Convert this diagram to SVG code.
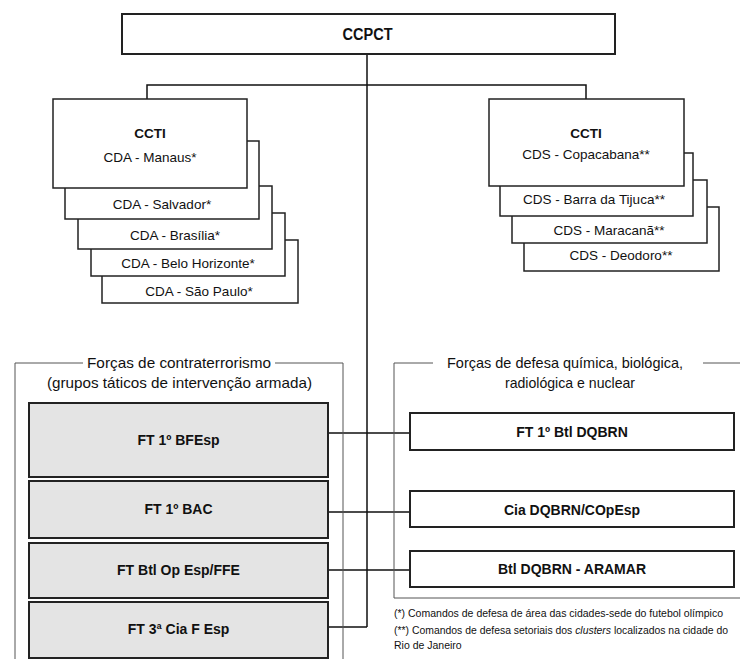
<svg xmlns="http://www.w3.org/2000/svg" width="740" height="659" viewBox="0 0 740 659">
<style>
text{font-family:"Liberation Sans",Arial,sans-serif;fill:#111;text-anchor:middle;dominant-baseline:central}
.b{font-weight:bold}
.n{font-size:13.5px}
.hd{font-size:15px}
.h{font-size:14px}
.fn{font-size:10.5px;text-anchor:start;dominant-baseline:auto}
.box{fill:#fff;stroke:#222;stroke-width:1.5}
.gbox{fill:#e4e4e4;stroke:#222;stroke-width:2}
.rbox{fill:#fff;stroke:#222;stroke-width:2}
.frame{fill:none;stroke:#555;stroke-width:1}
.conn{fill:none;stroke:#111;stroke-width:1.5}
</style>
<rect width="740" height="659" fill="#fff"/>
<g id="connectors">
<path class="conn" d="M367 54V627M147 99V85H586V99"/>
<path class="conn" d="M328 433H410M328 512H410M328 570H410M328 627H367"/>
</g>
<g id="ccpct">
<rect class="box" x="122" y="14" width="493" height="40" style="stroke-width:2"/>
<text class="b" x="367.5" y="34" style="font-size:16px" textLength="50" lengthAdjust="spacingAndGlyphs">CCPCT</text>
</g>
<g id="cda-sao-paulo">
<rect class="box" x="102" y="240" width="196" height="63"/>
<text class="n" x="199" y="291">CDA - São Paulo*</text>
</g>
<g id="cda-belo-horizonte">
<rect class="box" x="91" y="213" width="194" height="63"/>
<text class="n" x="188" y="263">CDA - Belo Horizonte*</text>
</g>
<g id="cda-brasilia">
<rect class="box" x="78" y="186" width="194" height="63"/>
<text class="n" x="175" y="235">CDA - Brasília*</text>
</g>
<g id="cda-salvador">
<rect class="box" x="65" y="141" width="194" height="78"/>
<text class="n" x="162" y="204">CDA - Salvador*</text>
</g>
<g id="ccti-manaus">
<rect class="box" x="53" y="99" width="194" height="89"/>
<text class="n b" x="150" y="133">CCTI</text>
<text class="n" x="150" y="157">CDA - Manaus*</text>
</g>
<g id="cds-deodoro">
<rect class="box" x="524" y="207" width="195" height="64"/>
<text class="n" x="621" y="255">CDS - Deodoro**</text>
</g>
<g id="cds-maracana">
<rect class="box" x="512" y="180" width="195" height="63"/>
<text class="n" x="609" y="230">CDS - Maracanã**</text>
</g>
<g id="cds-barra">
<rect class="box" x="500" y="153" width="193" height="63"/>
<text class="n" x="594" y="199">CDS - Barra da Tijuca**</text>
</g>
<g id="ccti-copacabana">
<rect class="box" x="489" y="99" width="195" height="87"/>
<text class="n b" x="586" y="133">CCTI</text>
<text class="n" x="586" y="154">CDS - Copacabana**</text>
</g>
<g id="frame-contraterrorismo">
<path class="frame" d="M83 363H15V659M275 363H343V659"/>
<text class="hd" x="179" y="362" textLength="184" lengthAdjust="spacingAndGlyphs">Forças de contraterrorismo</text>
<text class="hd" x="179.5" y="382" textLength="265" lengthAdjust="spacingAndGlyphs">(grupos táticos de intervenção armada)</text>
</g>
<g id="frame-dqbrn">
<path class="frame" d="M433 363H394V598H740M703 363H740"/>
<text class="hd" x="565" y="362" textLength="236" lengthAdjust="spacingAndGlyphs">Forças de defesa química, biológica,</text>
<text class="hd" x="570" y="382" textLength="130" lengthAdjust="spacingAndGlyphs">radiológica e nuclear</text>
</g>
<g id="ft-1-bfesp">
<rect class="gbox" x="29" y="403" width="299" height="74"/>
<text class="h b" x="178.5" y="440">FT 1º BFEsp</text>
</g>
<g id="ft-1-bac">
<rect class="gbox" x="29" y="481" width="299" height="57"/>
<text class="h b" x="178.5" y="509">FT 1º BAC</text>
</g>
<g id="ft-btl-op-esp">
<rect class="gbox" x="29" y="543" width="299" height="55"/>
<text class="h b" x="178.5" y="570">FT Btl Op Esp/FFE</text>
</g>
<g id="ft-3-cia">
<rect class="gbox" x="29" y="602" width="299" height="56"/>
<text class="h b" x="178.5" y="629">FT 3ª Cia F Esp</text>
</g>
<g id="ft-1-btl-dqbrn">
<rect class="rbox" x="410" y="413" width="324" height="37"/>
<text class="h b" x="572" y="432">FT 1º Btl DQBRN</text>
</g>
<g id="cia-dqbrn">
<rect class="rbox" x="410" y="491" width="324" height="36"/>
<text class="h b" x="572" y="510">Cia DQBRN/COpEsp</text>
</g>
<g id="btl-dqbrn-aramar">
<rect class="rbox" x="410" y="551" width="324" height="36"/>
<text class="h b" x="572" y="569">Btl DQBRN - ARAMAR</text>
</g>
<g id="footnotes">
<text class="fn" x="394" y="617" textLength="329" lengthAdjust="spacingAndGlyphs">(*) Comandos de defesa de área das cidades-sede do futebol olímpico</text>
<text class="fn" x="394" y="634" textLength="334" lengthAdjust="spacingAndGlyphs">(**) Comandos de defesa setoriais dos <tspan font-style="italic">clusters</tspan> localizados na cidade do</text>
<text class="fn" x="394" y="649">Rio de Janeiro</text>
</g>
</svg>
